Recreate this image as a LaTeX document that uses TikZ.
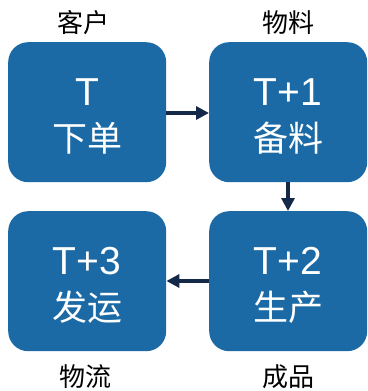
\documentclass[tikz,border=0pt]{standalone}
\usepackage{fontspec}
\setmainfont{Liberation Sans}
\newfontfamily\cjk{Noto Sans CJK SC}
\usetikzlibrary{arrows.meta}
\definecolor{boxblue}{HTML}{1C6AA5}
\definecolor{arrowc}{HTML}{14284A}
\begin{document}
\begin{tikzpicture}[x=1pt,y=-1pt,
  bx/.style={fill=boxblue, draw=none, rounded corners=20pt, minimum width=158pt, minimum height=140pt, inner sep=0pt, anchor=north west},
  tnum/.style={text=white, font=\fontsize{39}{42}\selectfont},
  tcn/.style={text=white, font=\cjk\fontsize{35}{38}\selectfont},
  lab/.style={text=black, font=\cjk\fontsize{26}{30}\selectfont},
  arr/.style={draw=arrowc, line width=4pt, -{Triangle[length=13pt,width=13pt]}}]
\useasboundingbox (0,0) rectangle (367,391);
\node[bx] (b1) at (8,42) {};
\node[bx] (b2) at (209,42) {};
\node[bx] (b3) at (8,211) {};
\node[bx] (b4) at (209,211) {};
\node[tnum] (t1) at (87,92) {T};
\node[tcn] (c1) at (87,138) {下单};
\node[tnum] (t2) at (288,92) {T+1};
\node[tcn] (c2) at (288,138) {备料};
\node[tnum] (t3) at (87,261) {T+3};
\node[tcn] (c3) at (87,307) {发运};
\node[tnum] (t4) at (288,261) {T+2};
\node[tcn] (c4) at (288,307) {生产};
\node[lab] (l1) at (83,23) {客户};
\node[lab] (l2) at (288,23) {物料};
\node[lab] (l3) at (85,377) {物流};
\node[lab] (l4) at (288,377) {成品};
\draw[arr] (b1.east |- 0,113) -- (b2.west |- 0,113);
\draw[arr] (b2.south -| 288,0) -- (b4.north -| 288,0);
\draw[arr] (b4.west |- 0,281) -- (b3.east |- 0,281);
\end{tikzpicture}
\end{document}
